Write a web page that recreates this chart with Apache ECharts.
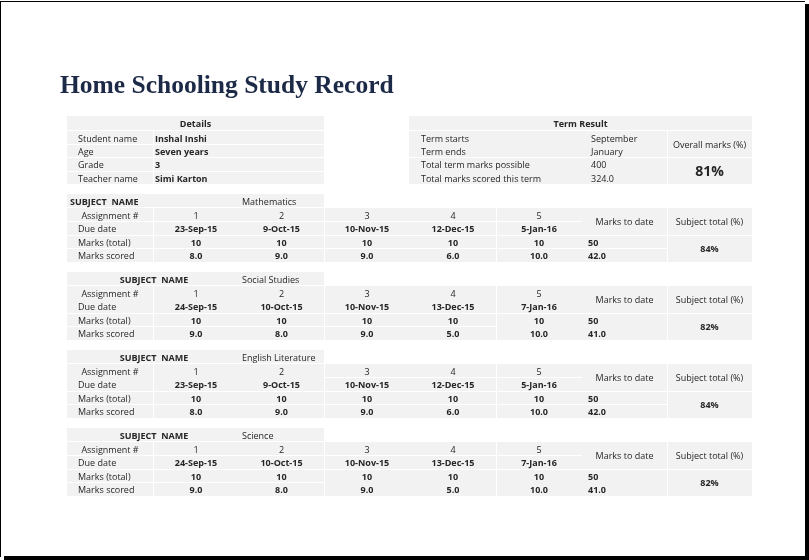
<!DOCTYPE html>
<html>
<head>
<meta charset="utf-8">
<script src="https://cdn.jsdelivr.net/npm/echarts@6/dist/echarts.min.js"></script>
<style>
  html, body { margin: 0; padding: 0; background: #fff; }
  #main { width: 809px; height: 560px; }
</style>
</head>
<body>
<div id="main"></div>
<script>
// ---- data ----
var title = 'Home Schooling Study Record';
var detailLabels = ['Student name', 'Age', 'Grade', 'Teacher name'];
var detailValues = ['Inshal Inshi', 'Seven years', '3', 'Simi Karton'];
var termLabels = ['Term starts', 'Term ends', 'Total term marks possible', 'Total marks scored this term'];
var termValues = ['September', 'January', '400', '324.0'];
var overallPct = '81%';

var subjects = ['Mathematics', 'Social Studies', 'English Literature', 'Science'];
var assignments = ['1', '2', '3', '4', '5'];
var dueDates = [
  ['23-Sep-15', '9-Oct-15', '10-Nov-15', '12-Dec-15', '5-Jan-16'],
  ['24-Sep-15', '10-Oct-15', '10-Nov-15', '13-Dec-15', '7-Jan-16'],
  ['23-Sep-15', '9-Oct-15', '10-Nov-15', '12-Dec-15', '5-Jan-16'],
  ['24-Sep-15', '10-Oct-15', '10-Nov-15', '13-Dec-15', '7-Jan-16']
];
var marksTotal = [
  [10, 10, 10, 10, 10],
  [10, 10, 10, 10, 10],
  [10, 10, 10, 10, 10],
  [10, 10, 10, 10, 10]
];
var marksScored = [
  [8.0, 9.0, 9.0, 6.0, 10.0],
  [9.0, 8.0, 9.0, 5.0, 10.0],
  [8.0, 9.0, 9.0, 6.0, 10.0],
  [9.0, 8.0, 9.0, 5.0, 10.0]
];
var totalToDate = [50, 50, 50, 50];
var scoredToDate = [42.0, 41.0, 42.0, 41.0];
var subjectPct = [84, 82, 84, 82];

// ---- layout (sheet pixels) ----
var W = 809, H = 560;
var colEdges = [67, 153, 239, 324, 410, 496, 582, 667, 752];
var spanEdges = [67, 153, 324, 496, 667, 752];   // vertical white lines between spans
var blockTop = [194, 272, 350, 428];
var rowEdge = [14, 27, 41, 54, 68];              // offsets from block top
var headLabelAlign = ['left', 'center', 'center', 'center'];
// horizontal white line segments per block: [row boundary index, x0, x1]
var blockLines = [
  [[1, 67, 582], [2, 67, 752], [3, 67, 667]],
  [[2, 67, 752], [3, 67, 496]],
  [[1, 324, 582], [2, 67, 752], [3, 67, 667]],
  [[1, 67, 582], [2, 67, 752], [3, 67, 324]]
];

var GREY = '#f2f2f2', INK = '#262626', NAVY = '#1c2a47';
var FONT = '"Open Sans", sans-serif';
var FS = 9;
var DY = 1;   // text baseline nudge

var rects = [];
var rectColors = [];
var texts = [];
var textStyles = [];

function rect(x0, y0, x1, y1, c) { rects.push([x0, y0, x1, y1]); rectColors.push(c); }
function txt(x, y, s, align, bold, size, color, family) {
  texts.push([x, y + DY]);
  textStyles.push({
    text: String(s), align: align || 'left', verticalAlign: 'middle',
    fontWeight: bold ? 'bold' : 'normal', fontSize: size || FS,
    fontFamily: family || FONT, fill: color || INK
  });
}
function mid(a, b) { return (a + b) / 2; }

// page frame with shadow
rect(0, 1, 805, 2, '#000');
rect(0, 1, 1, 557, '#000');
rect(805, 4, 809, 560, '#000');
rect(4, 556, 809, 560, '#000');

// title
txt(60, 85, title, 'left', true, 25.5, NAVY, '"Liberation Serif", "DejaVu Serif", serif');

// details table
rect(67, 116, 324, 130, GREY);
rect(67, 131, 153, 184, GREY);
rect(154, 131, 324, 184, GREY);
[144, 157, 171].forEach(function (y) { rect(67, y, 324, y + 1, '#fff'); });
var dRows = [131, 144, 157, 171, 184];
txt(mid(67, 324), 123, 'Details', 'center', true);
detailLabels.forEach(function (l, i) {
  var y = mid(dRows[i], dRows[i + 1]) + 0.5;
  txt(78, y, l, 'left', false);
  txt(155, y, detailValues[i], 'left', true);
});

// term result table
rect(409, 116, 752, 130, GREY);
rect(409, 131, 667, 184, GREY);
rect(668, 131, 752, 184, GREY);
rect(409, 157, 752, 158, '#fff');
txt(mid(409, 752), 123, 'Term Result', 'center', true);
termLabels.forEach(function (l, i) {
  var y = mid(dRows[i], dRows[i + 1]) + 0.5;
  txt(421, y, l, 'left', false);
  txt(591, y, termValues[i], 'left', false);
});
txt(mid(667, 752), 144, 'Overall marks (%)', 'center', false);
txt(mid(667, 752), 171, overallPct, 'center', true, 14);

// subject blocks
subjects.forEach(function (name, b) {
  var t = blockTop[b];
  var ry = rowEdge.map(function (o) { return t + o; });
  rect(67, t, 324, t + 13, GREY);
  for (var s = 0; s < spanEdges.length - 1; s++) {
    rect(spanEdges[s] + (s ? 1 : 0), ry[0], spanEdges[s + 1], ry[4], GREY);
  }
  blockLines[b].forEach(function (ln) { rect(ln[1], ry[ln[0]], ln[2], ry[ln[0]] + 1, '#fff'); });

  var hy = t + 7;
  if (headLabelAlign[b] === 'left') txt(70, hy, 'SUBJECT  NAME', 'left', true);
  else txt(154, hy, 'SUBJECT  NAME', 'center', true);
  txt(242, hy, name, 'left', false);

  var rc = [0, 1, 2, 3].map(function (i) { return mid(ry[i], ry[i + 1]) + 0.5; });
  txt(110, rc[0], 'Assignment #', 'center', false);
  txt(78, rc[1], 'Due date', 'left', false);
  txt(78, rc[2], 'Marks (total)', 'left', false);
  txt(78, rc[3], 'Marks scored', 'left', false);
  for (var a = 0; a < assignments.length; a++) {
    var cx = mid(colEdges[a + 1], colEdges[a + 2]);
    txt(cx, rc[0], assignments[a], 'center', false);
    txt(cx, rc[1], dueDates[b][a], 'center', true);
    txt(cx, rc[2], marksTotal[b][a], 'center', true);
    txt(cx, rc[3], marksScored[b][a].toFixed(1), 'center', true);
  }
  txt(mid(582, 667), mid(ry[0], ry[2]), 'Marks to date', 'center', false);
  txt(mid(667, 752), mid(ry[0], ry[2]), 'Subject total (%)', 'center', false);
  txt(588, rc[2], totalToDate[b], 'left', true);
  txt(588, rc[3], scoredToDate[b].toFixed(1), 'left', true);
  txt(mid(667, 752), mid(ry[2], ry[4]), subjectPct[b] + '%', 'center', true);
});

var chart = echarts.init(document.getElementById('main'));
chart.setOption({
  backgroundColor: '#fff',
  animation: false,
  grid: { left: 0, right: 0, top: 0, bottom: 0 },
  xAxis: { type: 'value', min: 0, max: W, show: false },
  yAxis: { type: 'value', min: 0, max: H, inverse: true, show: false },
  series: [{
    type: 'custom',
    clip: false,
    silent: true,
    data: rects,
    renderItem: function (params, api) {
      var p0 = api.coord([api.value(0), api.value(1)]);
      var p1 = api.coord([api.value(2), api.value(3)]);
      return {
        type: 'rect',
        shape: { x: p0[0], y: p0[1], width: p1[0] - p0[0], height: p1[1] - p0[1] },
        style: { fill: rectColors[params.dataIndex] }
      };
    }
  }, {
    type: 'custom',
    clip: false,
    silent: true,
    data: texts,
    renderItem: function (params, api) {
      var p = api.coord([api.value(0), api.value(1)]);
      return { type: 'text', x: p[0], y: p[1], style: textStyles[params.dataIndex] };
    }
  }]
});
</script>
</body>
</html>
